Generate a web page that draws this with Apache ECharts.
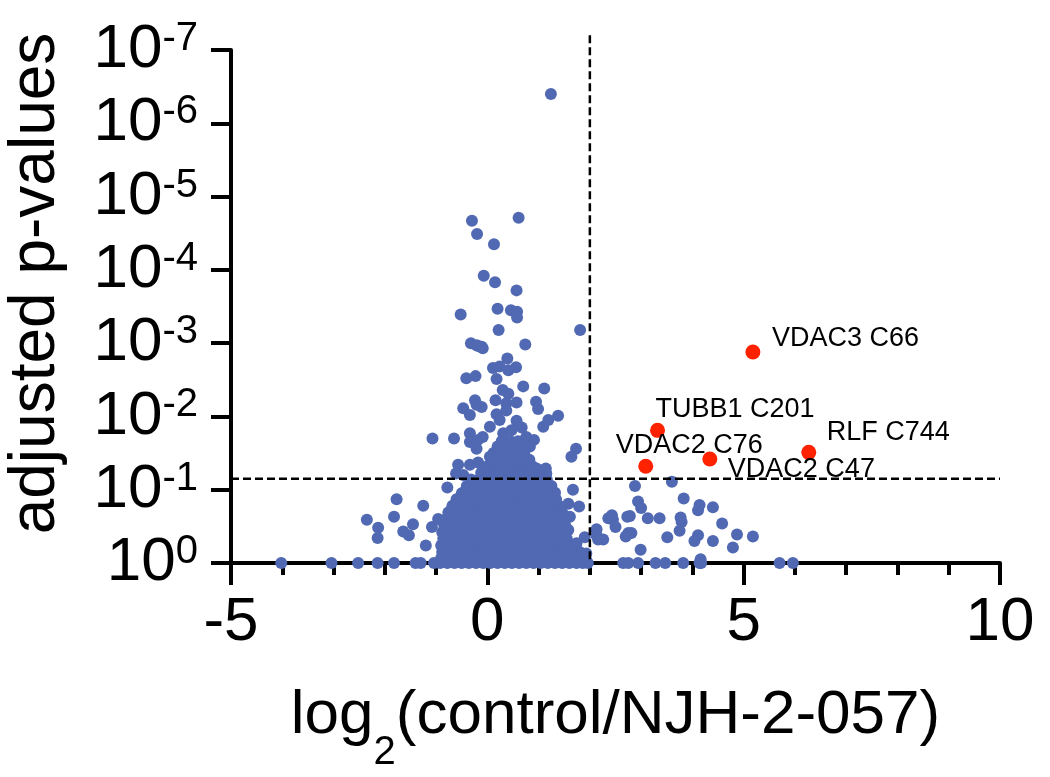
<!DOCTYPE html>
<html>
<head>
<meta charset="utf-8">
<script src="https://cdn.jsdelivr.net/npm/echarts@6/dist/echarts.min.js"></script>
<style>
html,body{margin:0;padding:0;background:#fff;}
#chart{width:1050px;height:777px;}
</style>
</head>
<body>
<div id="chart"></div>
<script>
// ---- data: x = log2(control/NJH-2-057), y = -log10(adjusted p-value) ----
var yTickExponents = ['0', '-1', '-2', '-3', '-4', '-5', '-6', '-7'];
var xTickLabels = ['-5', '0', '5', '10'];
var cutoffX = 2;
var cutoffY = 1.15;
var cutoffTop = 7.2;

var hitNames = ['VDAC3 C66', 'TUBB1 C201', 'VDAC2 C76', 'VDAC2 C47', 'RLF C744'];
var hitX = [5.18, 3.32, 3.09, 4.34, 6.27];
var hitY = [2.88, 1.81, 1.32, 1.42, 1.51];

var otherSites = [
  [1.24,6.40],[-0.30,4.67],[0.61,4.71],[-0.20,4.49],[0.13,4.35],[-0.07,3.92],[0.15,3.83],[0.57,3.72],
  [-0.52,3.39],[0.20,3.47],[0.46,3.45],[0.58,3.43],[0.58,3.35],[0.22,3.18],[1.81,3.18],
  [-0.32,3.00],[-0.21,2.97],[-0.11,2.95],[0.74,2.98],[-0.18,2.96],[-0.09,2.93],
  [0.39,2.79],[0.11,2.66],[0.24,2.68],[0.41,2.63],[0.56,2.67],[0.18,2.51],[-0.41,2.52],[-0.23,2.55],
  [0.70,2.41],[1.11,2.38],[0.30,2.36],[0.41,2.31],[0.16,2.22],[-0.24,2.22],[-0.21,2.16],[-0.47,2.11],
  [-0.34,2.02],[-0.11,2.13],[0.37,2.18],[0.57,2.19],[0.95,2.20],[0.99,2.10],[0.37,2.08],[0.18,2.03],
  [1.38,2.01],[1.19,1.95],[1.09,1.86],[0.24,1.95],[0.05,1.86],[0.57,1.94],[0.67,1.85],
  [-1.07,1.70],[-0.65,1.70],[-0.34,1.77],[-0.34,1.65],[-0.18,1.68],[-0.09,1.72],[-0.21,1.56],
  [0.31,1.77],[0.47,1.81],[0.76,1.72],[0.91,1.68],[0.83,1.59],[1.73,1.56],[1.64,1.45],
  [-0.57,1.34],[-0.34,1.34],[-0.18,1.37],[0.05,1.45],[0.44,1.50],[0.96,1.29],[1.14,1.29],
  [-0.61,1.22],[-0.47,1.20],[1.15,1.22],
  [-0.78,1.03],[1.67,1.00],[-1.77,0.87],[-1.25,0.78],[-0.71,0.72],[-0.50,0.95],[1.79,0.77],
  [-2.35,0.59],[-1.82,0.63],[-2.13,0.48],[-2.14,0.34],[-1.64,0.43],[-1.53,0.38],[-1.45,0.53],
  [-1.08,0.49],[-0.96,0.60],[-1.20,0.24],
  [1.90,0.35],[2.13,0.46],[2.36,0.61],[1.58,0.81],[1.61,0.63],[1.58,0.45],[1.48,0.22],[1.93,0.13],[1.92,0.05],
  [2.88,1.05],[3.60,1.11],[2.94,0.84],[3.00,0.75],[3.83,0.88],[4.14,0.79],[4.11,0.72],[4.40,0.76],
  [2.43,0.65],[2.45,0.59],[2.50,0.49],[2.78,0.64],[3.13,0.61],[3.36,0.61],[3.77,0.62],[3.79,0.56],
  [3.75,0.44],[4.58,0.54],[4.87,0.39],[5.18,0.36],[2.75,0.41],[2.81,0.41],[2.70,0.36],[3.51,0.35],
  [4.11,0.38],[4.04,0.30],[4.40,0.30],[4.79,0.21],[2.99,0.18],[2.16,0.32],[2.26,0.32],[4.16,0.05],
  [2.73,0.63],[2.13,0.38],
  [-4.02,0],[-3.04,0],[-2.52,0],[-2.14,0],[-1.82,0],[-1.40,0],[-1.30,0],[-1.04,0],
  [2.65,0],[2.75,0],[2.94,0],[3.28,0],[3.47,0],[3.82,0],[4.14,0],[4.17,0],[5.70,0],[5.96,0],
  // dense central cloud
  [-0.92,0],[-0.78,0],[-0.64,0],[-0.5,0],[-0.36,0],[-0.22,0],[-0.08,0],[0.06,0],[0.2,0],[0.34,0],[0.48,0],
  [0.62,0],[0.76,0],[0.9,0],[1.04,0],[1.18,0],[1.32,0],[1.46,0],[1.6,0],[1.74,0],[1.86,0],[1.96,0],
  [-0.9,0.07],[-0.75,0.07],[-0.6,0.07],[-0.45,0.07],[-0.3,0.07],[-0.15,0.07],[0.0,0.07],[0.15,0.07],
  [0.3,0.07],[0.45,0.07],[0.6,0.07],[0.75,0.07],[0.9,0.07],[1.05,0.07],[1.2,0.07],[1.35,0.07],[1.5,0.07],
  [1.62,0.07],[1.75,0.07],[1.88,0.09],
  [-0.88,0.15],[-0.72,0.15],[-0.57,0.15],[-0.42,0.15],[-0.27,0.15],[-0.12,0.15],[0.03,0.15],[0.18,0.15],
  [0.33,0.15],[0.48,0.15],[0.63,0.15],[0.78,0.15],[0.93,0.15],[1.08,0.15],[1.23,0.15],[1.38,0.15],
  [1.52,0.15],[1.66,0.15],[1.8,0.15],
  [-0.9,0.24],[-0.75,0.24],[-0.6,0.24],[-0.45,0.24],[-0.3,0.24],[-0.15,0.24],[0.0,0.24],[0.15,0.24],
  [0.3,0.24],[0.45,0.24],[0.6,0.24],[0.75,0.24],[0.9,0.24],[1.05,0.24],[1.2,0.24],[1.35,0.24],[1.5,0.24],
  [1.62,0.24],[1.74,0.27],
  [-0.86,0.33],[-0.7,0.33],[-0.55,0.33],[-0.4,0.33],[-0.25,0.33],[-0.1,0.33],[0.05,0.33],[0.2,0.33],
  [0.35,0.33],[0.5,0.33],[0.65,0.33],[0.8,0.33],[0.95,0.33],[1.1,0.33],[1.25,0.33],[1.4,0.33],[1.55,0.33],
  [-0.88,0.42],[-0.73,0.42],[-0.58,0.42],[-0.43,0.42],[-0.28,0.42],[-0.13,0.42],[0.02,0.42],[0.17,0.42],
  [0.32,0.42],[0.47,0.42],[0.62,0.42],[0.77,0.42],[0.92,0.42],[1.07,0.42],[1.22,0.42],[1.37,0.42],[1.5,0.42],
  [-0.84,0.51],[-0.69,0.51],[-0.54,0.51],[-0.39,0.51],[-0.24,0.51],[-0.09,0.51],[0.06,0.51],[0.21,0.51],
  [0.36,0.51],[0.51,0.51],[0.66,0.51],[0.81,0.51],[0.96,0.51],[1.11,0.51],[1.26,0.51],[1.4,0.51],[1.52,0.51],
  [-0.8,0.60],[-0.65,0.60],[-0.5,0.60],[-0.35,0.60],[-0.2,0.60],[-0.05,0.60],[0.1,0.60],[0.25,0.60],
  [0.4,0.60],[0.55,0.60],[0.7,0.60],[0.85,0.60],[1.0,0.60],[1.15,0.60],[1.3,0.60],[1.44,0.60],
  [-0.76,0.69],[-0.61,0.69],[-0.46,0.69],[-0.31,0.69],[-0.16,0.69],[-0.01,0.69],[0.14,0.69],[0.29,0.69],
  [0.44,0.69],[0.59,0.69],[0.74,0.69],[0.89,0.69],[1.04,0.69],[1.19,0.69],[1.34,0.69],[1.46,0.69],
  [-0.68,0.78],[-0.53,0.78],[-0.38,0.78],[-0.23,0.78],[-0.08,0.78],[0.07,0.78],[0.22,0.78],[0.37,0.78],
  [0.52,0.78],[0.67,0.78],[0.82,0.78],[0.97,0.78],[1.12,0.78],[1.27,0.78],[1.4,0.78],
  [-0.6,0.87],[-0.45,0.87],[-0.3,0.87],[-0.15,0.87],[0.0,0.87],[0.15,0.87],[0.3,0.87],[0.45,0.87],
  [0.6,0.87],[0.75,0.87],[0.9,0.87],[1.05,0.87],[1.2,0.87],[1.34,0.87],
  [-0.48,0.96],[-0.33,0.96],[-0.18,0.96],[-0.03,0.96],[0.12,0.96],[0.27,0.96],[0.42,0.96],[0.57,0.96],
  [0.72,0.96],[0.87,0.96],[1.02,0.96],[1.17,0.96],[1.32,0.96],
  [-0.4,1.05],[-0.25,1.05],[-0.1,1.05],[0.05,1.05],[0.2,1.05],[0.35,1.05],[0.5,1.05],[0.65,1.05],
  [0.8,1.05],[0.95,1.05],[1.1,1.05],[1.25,1.05],
  [-0.32,1.14],[-0.17,1.14],[-0.02,1.14],[0.13,1.14],[0.28,1.14],[0.43,1.14],[0.58,1.14],[0.73,1.14],
  [0.88,1.14],[1.03,1.14],[1.16,1.14],
  [-0.12,1.23],[0.03,1.23],[0.18,1.23],[0.33,1.23],[0.48,1.23],[0.63,1.23],[0.78,1.23],[0.92,1.23],[1.02,1.23],
  [0.0,1.32],[0.15,1.32],[0.3,1.32],[0.45,1.32],[0.6,1.32],[0.75,1.32],[0.88,1.32],
  [0.08,1.41],[0.23,1.41],[0.38,1.41],[0.53,1.41],[0.68,1.41],[0.82,1.41],
  [0.12,1.50],[0.27,1.50],[0.42,1.50],[0.57,1.50],[0.72,1.50],
  [0.2,1.59],[0.35,1.59],[0.5,1.59],[0.65,1.59],
  [0.28,1.66],[0.45,1.66],[0.6,1.66]
];

// ---- styling ----
var FONT = '"Liberation Sans", Arial, Helvetica, sans-serif';
var labelOffsets = {
  'VDAC3 C66': [19, -13],
  'TUBB1 C201': [-2, -21],
  'VDAC2 C76': [-30, -21],
  'VDAC2 C47': [18, 11],
  'RLF C744': [18, -20]
};

var hitData = hitNames.map(function (n, i) {
  return {
    name: n,
    value: [hitX[i], hitY[i]],
    label: {
      show: true, formatter: n, position: 'inside', align: 'left', verticalAlign: 'middle',
      offset: labelOffsets[n], color: '#000', fontSize: 27, fontFamily: FONT
    }
  };
});

var dashStyle = {color: '#000', type: [8, 4], width: 2.5};

var chart = echarts.init(document.getElementById('chart'), null, {renderer: 'canvas'});
chart.setOption({
  animation: false,
  backgroundColor: '#fff',
  grid: {left: 231, right: 50, top: 50, bottom: 214, outerBoundsMode: 'none', containLabel: false},
  xAxis: {
    type: 'value', min: -5, max: 10, interval: 5,
    name: '{t|log}{sub|2}{t|(control/NJH-2-057)}',
    nameLocation: 'middle', nameGap: 122,
    nameTextStyle: {
      rich: {
        t: {fontSize: 62, fontFamily: FONT, color: '#000'},
        sub: {fontSize: 40, fontFamily: FONT, color: '#000', verticalAlign: 'bottom', padding: [0, 0, -26, 0]}
      }
    },
    axisLine: {show: true, onZero: false, lineStyle: {color: '#000', width: 4}},
    axisTick: {show: true, length: 22, lineStyle: {color: '#000', width: 4}},
    minorTick: {show: true, splitNumber: 5, length: 12, lineStyle: {color: '#000', width: 4}},
    splitLine: {show: false},
    axisLabel: {
      fontSize: 62, fontFamily: FONT, color: '#000', margin: 29,
      formatter: function (v) { return xTickLabels[(v + 5) / 5]; }
    }
  },
  yAxis: {
    type: 'value', min: 0, max: 7, interval: 1,
    name: 'adjusted p-values',
    nameLocation: 'middle', nameGap: 163,
    nameTextStyle: {fontSize: 64, fontFamily: FONT, color: '#000', padding: [0, 0, 0, 46]},
    axisLine: {show: true, onZero: false, lineStyle: {color: '#000', width: 4}},
    axisTick: {show: true, length: 20, lineStyle: {color: '#000', width: 4}},
    splitLine: {show: false},
    axisLabel: {
      margin: 33,
      formatter: function (v) { return '{b|10}{s|' + yTickExponents[v] + '}'; },
      rich: {
        b: {fontSize: 62, fontFamily: FONT, color: '#000'},
        s: {fontSize: 40, fontFamily: FONT, color: '#000', verticalAlign: 'top', padding: [0, 0, 16, 0]}
      }
    }
  },
  series: [
    {
      type: 'line', name: 'fold cutoff', data: [[cutoffX, cutoffTop], [cutoffX, 0]],
      symbol: 'none', clip: false, silent: true, lineStyle: dashStyle, z: 4
    },
    {
      type: 'line', name: 'p cutoff', data: [[-5, cutoffY], [10, cutoffY]],
      symbol: 'none', clip: false, silent: true, lineStyle: dashStyle, z: 4
    },
    {
      type: 'scatter', name: 'other', symbolSize: 12, data: otherSites, z: 2,
      itemStyle: {color: '#5069b2', opacity: 1}
    },
    {
      type: 'scatter', name: 'hits', symbolSize: 15, data: hitData, z: 3,
      itemStyle: {color: '#ff2200', opacity: 1}
    }
  ]
});
</script>
</body>
</html>
